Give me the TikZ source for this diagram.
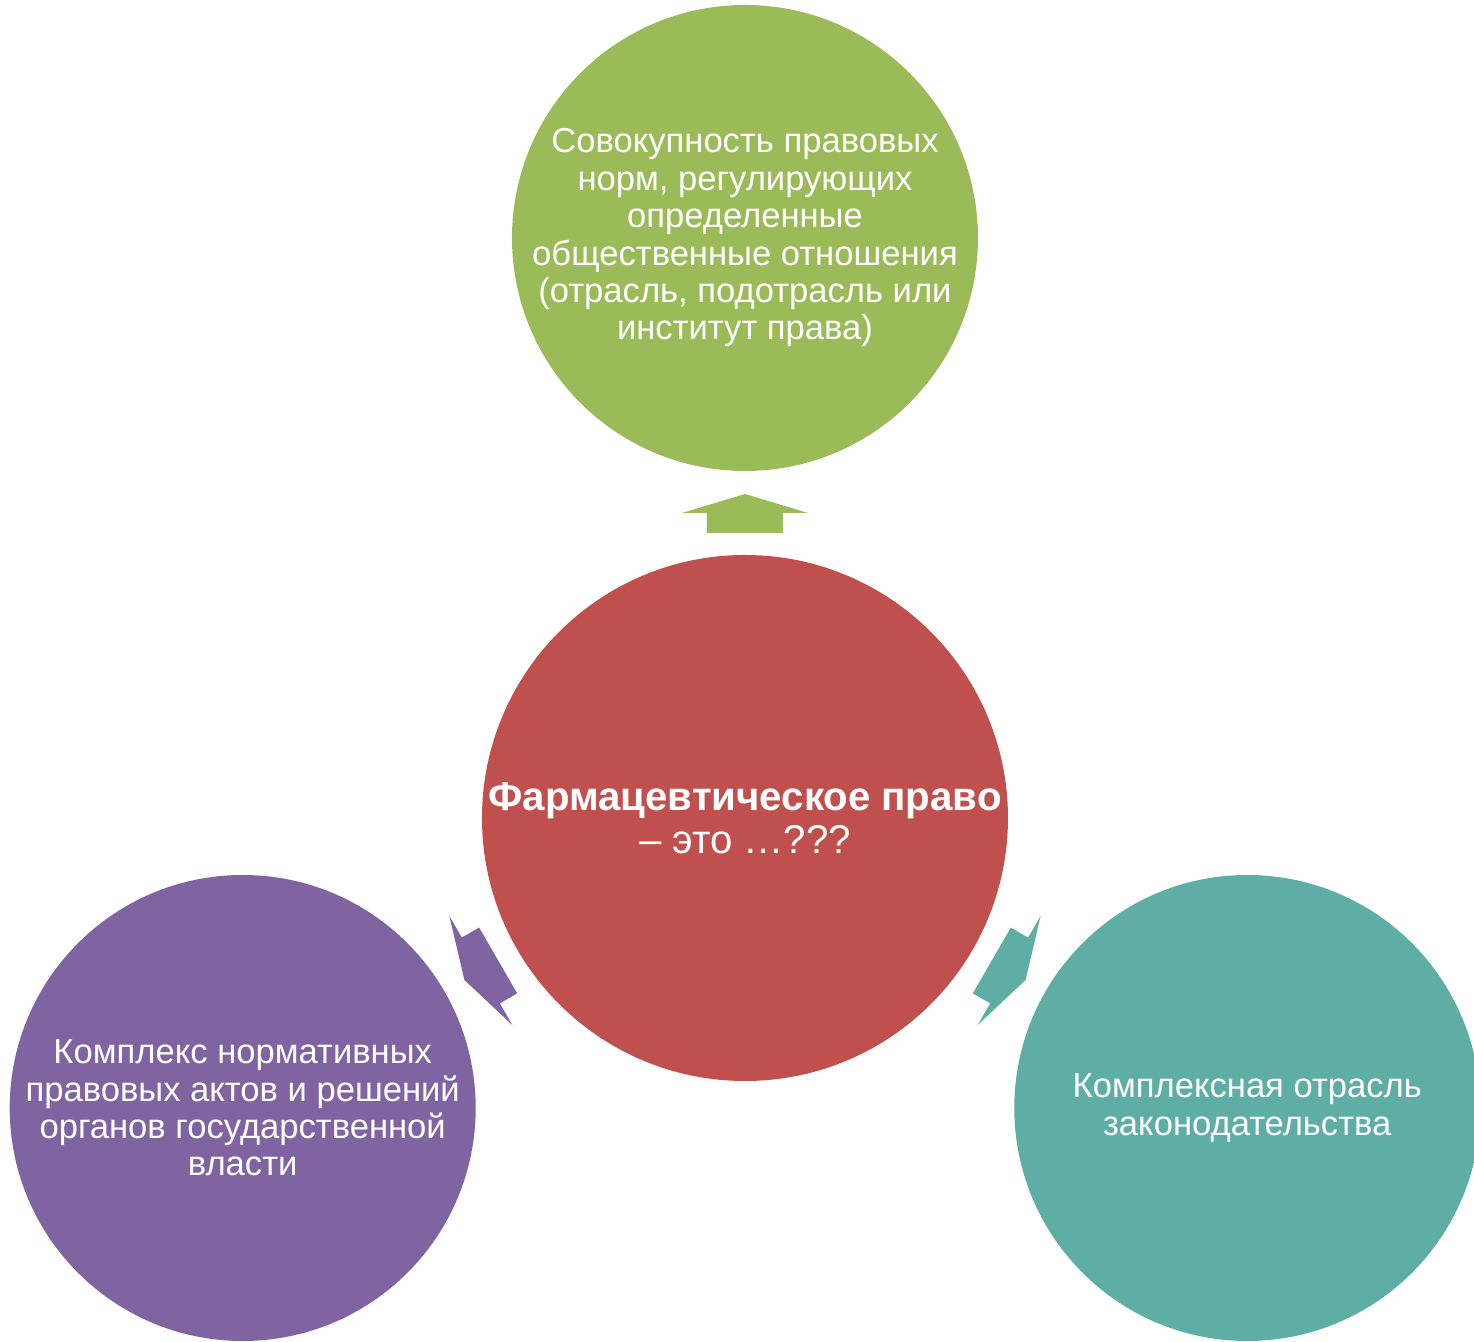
\documentclass[tikz,border=0pt]{standalone}
\usepackage{fontspec}
\setmainfont{Liberation Sans}
\definecolor{lawred}{HTML}{C0504D}
\definecolor{lawgreen}{HTML}{9BBB59}
\definecolor{lawviolet}{HTML}{8064A2}
\definecolor{lawteal}{HTML}{5EAEA5}
\tikzset{
  ball/.style={circle,minimum size=233pt,inner sep=-40pt,align=center,text=white,
    font=\fontsize{17.3}{18.7}\selectfont},
  core/.style={circle,minimum size=263pt,inner sep=-40pt,align=center,text=white,
    fill=lawred,font=\fontsize{20.1}{21.5}\selectfont}
}
\begin{document}
\begin{tikzpicture}[x=0.5pt,y=0.5pt]
\useasboundingbox(-745,-524)rectangle(729,818);
\newcommand{\Pointer}[1]{
\fill[#1](0,324)--(63,305)--(38,305)--(38,285)--(-38,285)--(-38,305)--(-63,305)--cycle;}
\node[core](c)at(0,0){\textbf{Фармацевтическое право}\\– это …???};
\node[ball,fill=lawgreen](up)at(90:580){Совокупность правовых\\норм, регулирующих\\определенные\\общественные отношения\\(отрасль, подотрасль или\\институт права)};
\node[ball,fill=lawviolet](left)at(210:580){Комплекс нормативных\\правовых актов и решений\\органов государственной\\власти};
\node[ball,fill=lawteal](right)at(330:580){Комплексная отрасль\\законодательства};
\begin{scope}
\Pointer{lawgreen}
\end{scope}
\begin{scope}[rotate=120]
\Pointer{lawviolet}
\end{scope}
\begin{scope}[rotate=-120]
\Pointer{lawteal}
\end{scope}
\end{tikzpicture}
\end{document}
